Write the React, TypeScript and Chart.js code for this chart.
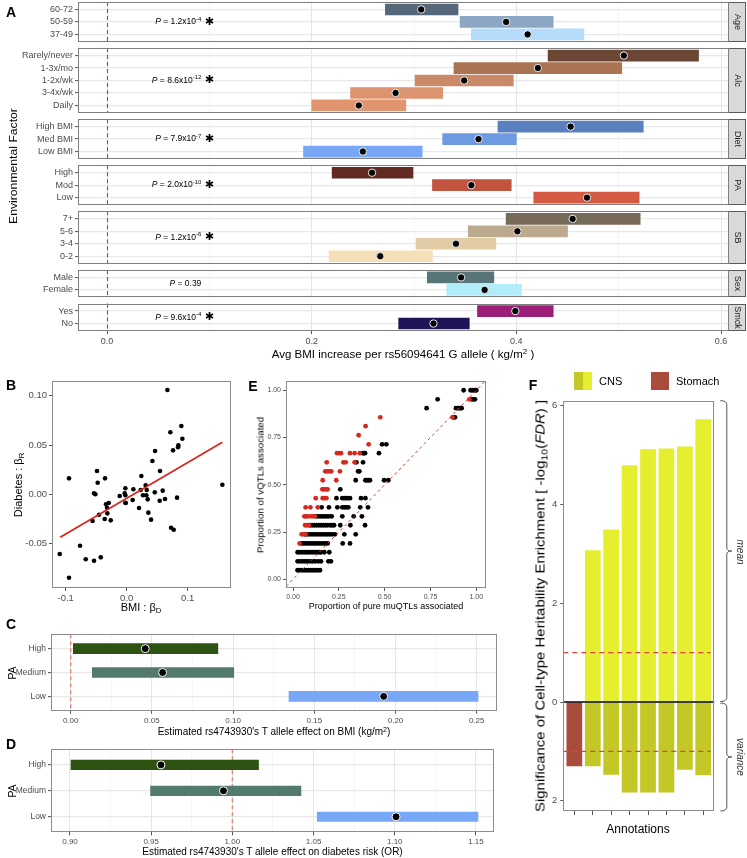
import React, { useEffect, useRef } from "react";
import { Chart, registerables } from "chart.js";
Chart.register(...registerables);

const FONT = "'Liberation Sans', Arial, Helvetica, sans-serif";
const TICK_COLOR = "#4d4d4d";

// ---------------- Panel A data ----------------
const facetNames = ["Age", "Alc", "Diet", "PA", "SB", "Sex", "Smck"];

const ageLevels = ["60-72", "50-59", "37-49"];
const ageEst = [0.307, 0.39, 0.411];
const ageLow = [0.272, 0.345, 0.356];
const ageHigh = [0.343, 0.436, 0.466];
const ageColors = ["#566779", "#8ba7c4", "#b6dcfb"];

const alcLevels = ["Rarely/never", "1-3x/mo", "1-2x/wk", "3-4x/wk", "Daily"];
const alcEst = [0.505, 0.421, 0.349, 0.282, 0.246];
const alcLow = [0.431, 0.339, 0.301, 0.238, 0.2];
const alcHigh = [0.578, 0.503, 0.397, 0.328, 0.292];
const alcColors = ["#6b4634", "#a97453", "#cb8a67", "#dc936f", "#e0956f"];

const dietLevels = ["High BMI", "Med BMI", "Low BMI"];
const dietEst = [0.453, 0.363, 0.25];
const dietLow = [0.382, 0.328, 0.192];
const dietHigh = [0.524, 0.4, 0.308];
const dietColors = ["#5b80c0", "#6e9ae0", "#78a8f5"];

const paLevels = ["High", "Mod", "Low"];
const paEst = [0.259, 0.356, 0.469];
const paLow = [0.22, 0.318, 0.417];
const paHigh = [0.299, 0.395, 0.52];
const paColors = ["#622a22", "#c2533f", "#d45a44"];

const sbLevels = ["7+", "5-6", "3-4", "0-2"];
const sbEst = [0.455, 0.401, 0.341, 0.267];
const sbLow = [0.39, 0.353, 0.302, 0.217];
const sbHigh = [0.521, 0.45, 0.38, 0.318];
const sbColors = ["#766a58", "#bcaa8e", "#e2cca6", "#f5dfb8"];

const sexLevels = ["Male", "Female"];
const sexEst = [0.346, 0.369];
const sexLow = [0.313, 0.332];
const sexHigh = [0.378, 0.405];
const sexColors = ["#577479", "#b2ecfb"];

const smckLevels = ["Yes", "No"];
const smckEst = [0.399, 0.319];
const smckLow = [0.362, 0.285];
const smckHigh = [0.436, 0.354];
const smckColors = ["#9b1f78", "#1f1456"];

const pMantissa = ["1.2", "8.6", "7.9", "2.0", "1.2", "0.39", "9.6"];
const pExponent = ["-4", "-12", "-7", "-10", "-6", "", "-4"];
const pSignificant = [true, true, true, true, true, false, true];
const aTicks = [0, 0.2, 0.4, 0.6];

// ---------------- Panel B data ----------------
const bX = [-0.0946, -0.0487, -0.0476, -0.0536, -0.0514, -0.0355, -0.0454, -0.056, -0.0361, -0.0339, -0.0295, -0.0323, -0.0317, -0.0262, -0.0115, -0.0022, -0.0033, -0.0022, -0.0022, -0.0016, 0.0109, 0.0098, 0.0202, 0.024, 0.0229, 0.0267, 0.0311, 0.0328, 0.0322, 0.0344, 0.0355, 0.0399, 0.0421, 0.046, 0.0465, 0.0541, 0.0546, 0.059, 0.0628, 0.0667, 0.0716, 0.076, 0.0727, 0.0771, 0.0825, 0.0842, 0.0847, 0.0896, 0.0913, 0.1568, -0.0765, -0.1098, -0.0672, -0.0536, -0.0426, -0.0946];
const bY = [0.0162, 0.0236, 0.0118, 0.001, 0.0, 0.0162, -0.0207, -0.0271, -0.025, -0.0101, -0.0088, -0.0136, -0.0193, -0.0264, -0.0017, 0.0061, 0.001, -0.001, -0.0085, -0.0088, 0.0051, -0.0058, -0.0139, 0.0186, 0.0044, -0.001, 0.0091, 0.0044, -0.001, -0.0051, -0.0186, -0.0257, 0.0338, 0.002, 0.0439, -0.0065, 0.0236, 0.0037, -0.0048, 0.1058, 0.0629, 0.0446, -0.0339, -0.0359, -0.0034, 0.0477, 0.0497, 0.0693, 0.0564, 0.0097, -0.0522, -0.0605, -0.0659, -0.0673, -0.0639, -0.0846];
const bFitX = [-0.109, 0.1568];
const bFitY = [-0.0436, 0.0527];
const bXTicks = [-0.1, 0, 0.1];
const bYTicks = [-0.05, 0, 0.05, 0.1];

// ---------------- Panel E data ----------------
const eBlackY = [1.0, 0.952, 0.905, 0.857, 0.714, 0.667, 0.619, 0.571, 0.524, 0.476, 0.429, 0.381, 0.333, 0.286, 0.238, 0.19, 0.143, 0.095, 0.048];
const eBlackX = [
  [0.931, 0.969, 0.978, 0.987, 0.995, 1.0],
  [0.789, 0.975, 0.985, 0.993],
  [0.729, 0.889, 0.898, 0.906, 0.913, 0.92],
  [0.875, 0.884],
  [0.486, 0.509],
  [0.38, 0.387, 0.393, 0.469],
  [0.346, 0.382],
  [0.355, 0.362],
  [0.342, 0.395, 0.403, 0.411, 0.42, 0.497, 0.52],
  [0.258],
  [0.237, 0.269, 0.28, 0.29, 0.3, 0.311, 0.371, 0.395],
  [0.156, 0.196, 0.242, 0.269, 0.28, 0.291, 0.302, 0.367, 0.409],
  [0.129, 0.14, 0.152, 0.163, 0.174, 0.185, 0.196, 0.211, 0.269, 0.331, 0.376],
  [0.093, 0.105, 0.117, 0.129, 0.141, 0.153, 0.165, 0.177, 0.189, 0.204, 0.214, 0.224, 0.258, 0.313, 0.393],
  [0.069, 0.081, 0.093, 0.105, 0.117, 0.129, 0.141, 0.153, 0.165, 0.177, 0.189, 0.201, 0.213, 0.229, 0.28, 0.342],
  [0.044, 0.056, 0.068, 0.08, 0.092, 0.104, 0.116, 0.128, 0.14, 0.152, 0.164, 0.176, 0.189, 0.271, 0.311],
  [0.025, 0.037, 0.049, 0.061, 0.073, 0.085, 0.097, 0.109, 0.121, 0.133, 0.145, 0.153, 0.171, 0.198],
  [0.025, 0.037, 0.049, 0.061, 0.073, 0.085, 0.097, 0.109, 0.121, 0.138, 0.153, 0.193, 0.207],
  [0.025, 0.037, 0.049, 0.061, 0.073, 0.085, 0.097, 0.109, 0.121, 0.133, 0.147],
];
const eRedY = [0.952, 0.857, 0.81, 0.762, 0.714, 0.667, 0.619, 0.571, 0.524, 0.476, 0.429, 0.381, 0.333, 0.286, 0.238, 0.19];
const eRedX = [
  [0.962],
  [0.476, 0.87],
  [0.396],
  [0.358],
  [0.413],
  [0.24, 0.251, 0.262, 0.311, 0.336, 0.364],
  [0.184, 0.275, 0.287, 0.336],
  [0.176, 0.187, 0.198, 0.209, 0.256],
  [0.162, 0.236],
  [0.16, 0.17, 0.18, 0.189],
  [0.124, 0.162, 0.172, 0.182],
  [0.069, 0.095, 0.135],
  [0.062, 0.071, 0.08, 0.096, 0.108, 0.12],
  [0.066, 0.076, 0.087],
  [0.047, 0.058, 0.069],
  [0.036],
];
const eTicks = [0, 0.25, 0.5, 0.75, 1.0];

// ---------------- Panels C / D data ----------------
const paGroups = ["High", "Medium", "Low"];
const paGroupColors = ["#2d5212", "#527b6c", "#79a7f8"];
const cEst = [0.0459, 0.0566, 0.1927];
const cLow = [0.0016, 0.0133, 0.1344];
const cHigh = [0.0906, 0.1004, 0.2508];
const cTicks = [0.0, 0.05, 0.1, 0.15, 0.2, 0.25];
const dEst = [0.956, 0.9945, 1.1008];
const dLow = [0.9006, 0.9496, 1.0522];
const dHigh = [1.0161, 1.0422, 1.1512];
const dTicks = [0.9, 0.95, 1.0, 1.05, 1.1, 1.15];

// ---------------- Panel F data ----------------
const fTissue = ["Stomach", "CNS", "CNS", "CNS", "CNS", "CNS", "CNS", "CNS"];
const fMean = [null, 3.08, 3.5, 4.8, 5.13, 5.14, 5.18, 5.73];
const fVariance = [1.31, 1.31, 1.48, 1.84, 1.84, 1.84, 1.38, 1.49];
const fYTicks = [-2, 0, 2, 4, 6];
const fThreshold = 1;

// ---------------- helpers ----------------
type Area = { l: number; t: number; r: number; b: number };
const fitX = (h: number, a: Area) => (s: any) => {
  s.height = h - a.b;
  s.paddingLeft = 0;
  s.paddingRight = 0;
};
const fitY = (a: Area) => (s: any) => {
  s.width = a.l;
  s.paddingTop = 0;
  s.paddingBottom = 0;
};
const near = (list: number[], v: number) => list.some((t) => Math.abs(t - v) < 1e-9);
const withMinor = (ticks: number[]) => {
  const out: number[] = [];
  ticks.forEach((t, i) => {
    out.push(t);
    if (i < ticks.length - 1) out.push((t + ticks[i + 1]) / 2);
  });
  return out;
};

function axis(o: any) {
  return {
    type: "linear",
    min: o.min,
    max: o.max,
    reverse: !!o.reverse,
    offset: false,
    afterBuildTicks: (s: any) => {
      s.ticks = o.ticks.map((value: number) => ({ value }));
    },
    afterFit: o.fit,
    border: { display: false },
    grid: {
      offset: false,
      display: true,
      drawOnChartArea: !!o.grid,
      color: (c: any) => (o.gridColor ? o.gridColor(c.tick ? c.tick.value : 0) : "#ebebeb"),
      lineWidth: (c: any) => (o.gridWidth ? o.gridWidth(c.tick ? c.tick.value : 0) : 1),
      drawTicks: true,
      tickLength: o.tickLen ?? 3,
      tickWidth: 1,
      tickColor: (c: any) =>
        !o.tickMark || o.tickMark(c.tick ? c.tick.value : 0) ? "#555" : "rgba(0,0,0,0)",
    },
    ticks: {
      autoSkip: false,
      maxRotation: 0,
      minRotation: 0,
      padding: o.pad ?? 2,
      color: TICK_COLOR,
      font: { family: FONT, size: o.size ?? 9 },
      callback: (v: number, i: number) => o.label(v, i),
    },
  };
}

function baseOptions(w: number, a: Area, scales: any, indexAxis = "x") {
  return {
    indexAxis,
    animation: false,
    responsive: false,
    events: [],
    layout: { padding: { left: 0, top: a.t, right: w - a.r, bottom: 0 }, autoPadding: false },
    plugins: { legend: { display: false }, tooltip: { enabled: false } },
    scales,
  };
}

const framePlugin = (color: string) => ({
  id: "frame",
  afterDatasetsDraw(chart: any) {
    const { ctx, chartArea: a } = chart;
    ctx.save();
    ctx.strokeStyle = color;
    ctx.lineWidth = 1;
    const l = Math.round(a.left) + 0.5;
    const t = Math.round(a.top) + 0.5;
    ctx.strokeRect(l, t, Math.round(a.right) - 0.5 - l, Math.round(a.bottom) - 0.5 - t);
    ctx.restore();
  },
});

// ---------------- Panel A ----------------
const facetLevels = [ageLevels, alcLevels, dietLevels, paLevels, sbLevels, sexLevels, smckLevels];
const facetEst = [ageEst, alcEst, dietEst, paEst, sbEst, sexEst, smckEst];
const facetLow = [ageLow, alcLow, dietLow, paLow, sbLow, sexLow, smckLow];
const facetHigh = [ageHigh, alcHigh, dietHigh, paHigh, sbHigh, sexHigh, smckHigh];
const facetColors = [ageColors, alcColors, dietColors, paColors, sbColors, sexColors, smckColors];

const ROW_EXPAND = 0.6;
const FACET_GAP = 0.5;
const facets: any[] = [];
let cursor = 0;
facetNames.forEach((name, i) => {
  const n = facetLevels[i].length;
  const top = cursor;
  const rows = facetLevels[i].map((_, j) => top + ROW_EXPAND + j);
  const bottom = top + 2 * ROW_EXPAND + n - 1;
  facets.push({ name, top, bottom, rows, i });
  cursor = bottom + FACET_GAP;
});
const aTotal = cursor - FACET_GAP;

function drawP(ctx: any, xr: number, y: number, mant: string, exp: string) {
  const parts: any[] = [
    { t: "P", f: `italic 8.5px ${FONT}`, dy: 0 },
    { t: ` = ${mant}${exp ? "x10" : ""}`, f: `8.5px ${FONT}`, dy: 0 },
  ];
  if (exp) parts.push({ t: exp, f: `6px ${FONT}`, dy: -3 });
  let total = 0;
  parts.forEach((p) => {
    ctx.font = p.f;
    p.w = ctx.measureText(p.t).width;
    total += p.w;
  });
  let x = xr - total;
  ctx.textAlign = "left";
  ctx.textBaseline = "middle";
  ctx.fillStyle = "#000";
  parts.forEach((p) => {
    ctx.font = p.f;
    ctx.fillText(p.t, x, y + p.dy);
    x += p.w;
  });
}

const aPlugin = {
  id: "aFacets",
  beforeDatasetsDraw(chart: any) {
    const { ctx, chartArea: ca, scales } = chart;
    const x = scales.x;
    const y = scales.y;
    ctx.save();
    ctx.fillStyle = "#ffffff";
    for (let i = 0; i < facets.length - 1; i++) {
      const y1 = y.getPixelForValue(facets[i].bottom);
      const y2 = y.getPixelForValue(facets[i + 1].top);
      ctx.fillRect(ca.left - 1, y1, ca.right - ca.left + 2, y2 - y1);
    }
    const x0 = Math.round(x.getPixelForValue(0)) + 0.5;
    ctx.strokeStyle = "#e3262b";
    ctx.lineWidth = 1.1;
    ctx.setLineDash([4, 3]);
    facets.forEach((f) => {
      ctx.beginPath();
      ctx.moveTo(x0, y.getPixelForValue(f.top));
      ctx.lineTo(x0, y.getPixelForValue(f.bottom));
      ctx.stroke();
    });
    ctx.restore();
  },
  afterDatasetsDraw(chart: any) {
    const { ctx, chartArea: ca, scales } = chart;
    const x = scales.x;
    const y = scales.y;
    ctx.save();
    facets.forEach((f, i) => {
      const t = Math.round(y.getPixelForValue(f.top)) + 0.5;
      const b = Math.round(y.getPixelForValue(f.bottom)) - 0.5;
      const l = Math.round(ca.left) + 0.5;
      const r = Math.round(ca.right) + 0.5;
      ctx.fillStyle = "#d9d9d9";
      ctx.fillRect(r, t, 17, b - t);
      ctx.strokeStyle = "#5a5a5a";
      ctx.lineWidth = 1;
      ctx.strokeRect(r, t, 17, b - t);
      ctx.strokeStyle = "#7f7f7f";
      ctx.strokeRect(l, t, r - l, b - t);
      ctx.save();
      ctx.translate(r + 8.5, (t + b) / 2);
      ctx.rotate(Math.PI / 2);
      ctx.fillStyle = "#1a1a1a";
      ctx.font = `9px ${FONT}`;
      ctx.textAlign = "center";
      ctx.textBaseline = "middle";
      ctx.fillText(f.name, 0, 0);
      ctx.restore();
      const xs = x.getPixelForValue(0.1);
      drawP(ctx, xs - 8, (t + b) / 2, pMantissa[i], pExponent[i]);
      if (pSignificant[i]) {
        ctx.font = `bold 11px 'DejaVu Sans', sans-serif`;
        ctx.textAlign = "center";
        ctx.textBaseline = "middle";
        ctx.fillStyle = "#000";
        ctx.fillText("\u2731", xs, (t + b) / 2);
      }
    });
    ctx.restore();
  },
};

function makeA(w: number, h: number) {
  const a = { l: 78, t: 2, r: 728, b: 331 };
  const rows = facets.flatMap((f) => f.rows);
  const labels = facets.flatMap((f) => facetLevels[f.i]);
  const bars = facets.flatMap((f) =>
    f.rows.map((yv: number, j: number) => ({ x: [facetLow[f.i][j], facetHigh[f.i][j]], y: yv }))
  );
  const colors = facets.flatMap((f) => facetColors[f.i]);
  const pts = facets.flatMap((f) => f.rows.map((yv: number, j: number) => ({ x: facetEst[f.i][j], y: yv })));
  const xGrid = withMinor(aTicks);
  return {
    type: "bar",
    data: {
      datasets: [
        {
          type: "scatter",
          order: 0,
          data: pts,
          pointRadius: 3.7,
          pointBackgroundColor: "#000",
          pointBorderColor: "#fff",
          pointBorderWidth: 0.9,
        },
        {
          type: "bar",
          order: 1,
          indexAxis: "y",
          data: bars,
          backgroundColor: colors,
          barThickness: 11,
          borderWidth: 0,
        },
      ],
    },
    options: baseOptions(
      w,
      a,
      {
        x: axis({
          min: -0.02834,
          max: 0.6068,
          ticks: xGrid,
          fit: fitX(h, a),
          grid: true,
          gridColor: (v: number) => (near(aTicks, v) ? "#e6e6e6" : "#f0f0f0"),
          gridWidth: (v: number) => (near(aTicks, v) ? 1 : 0.6),
          tickMark: (v: number) => near(aTicks, v),
          label: (v: number) => (near(aTicks, v) ? v.toFixed(1) : ""),
          size: 9,
        }),
        y: axis({
          min: 0,
          max: aTotal,
          reverse: true,
          ticks: rows,
          fit: fitY(a),
          grid: true,
          gridColor: () => "#e8e8e8",
          gridWidth: () => 1.2,
          label: (_v: number, i: number) => labels[i],
          size: 9,
        }),
      },
      "y"
    ),
    plugins: [aPlugin],
  };
}

// ---------------- Panel B ----------------
function makeB(w: number, h: number) {
  const a = { l: 52, t: 3, r: 231, b: 210 };
  return {
    type: "scatter",
    data: {
      datasets: [
        {
          type: "line",
          order: 0,
          data: bFitX.map((x, i) => ({ x, y: bFitY[i] })),
          borderColor: "#d7281f",
          borderWidth: 1.8,
          pointRadius: 0,
          showLine: true,
        },
        {
          type: "scatter",
          order: 1,
          data: bX.map((x, i) => ({ x, y: bY[i] })),
          pointRadius: 2.3,
          pointBackgroundColor: "#000",
          pointBorderWidth: 0,
        },
      ],
    },
    options: baseOptions(w, a, {
      x: axis({ min: -0.1225, max: 0.171, ticks: bXTicks, fit: fitX(h, a), label: (v: number) => v.toFixed(1), size: 9.5 }),
      y: axis({ min: -0.095, max: 0.1149, ticks: bYTicks, fit: fitY(a), label: (v: number) => v.toFixed(2), size: 9.5 }),
    }),
    plugins: [framePlugin("#8c8c8c")],
  };
}

// ---------------- Panel E ----------------
const eDiagPlugin = {
  id: "eDiag",
  afterDatasetsDraw(chart: any) {
    const { ctx, scales } = chart;
    const x = scales.x;
    const y = scales.y;
    const lo = Math.max(x.min, y.min);
    const hi = Math.min(x.max, y.max);
    ctx.save();
    ctx.strokeStyle = "#dd3b2f";
    ctx.lineWidth = 1;
    ctx.setLineDash([3, 3]);
    ctx.beginPath();
    ctx.moveTo(x.getPixelForValue(lo), y.getPixelForValue(lo));
    ctx.lineTo(x.getPixelForValue(hi), y.getPixelForValue(hi));
    ctx.stroke();
    ctx.restore();
  },
};

function makeE(w: number, h: number) {
  const a = { l: 41, t: 3, r: 241, b: 210 };
  const black = eBlackY.flatMap((yv, i) => eBlackX[i].map((x) => ({ x, y: yv })));
  const red = eRedY.flatMap((yv, i) => eRedX[i].map((x) => ({ x, y: yv })));
  return {
    type: "scatter",
    data: {
      datasets: [
        { order: 0, data: red, pointRadius: 2.4, pointBackgroundColor: "#d42a1f", pointBorderWidth: 0 },
        { order: 1, data: black, pointRadius: 2.4, pointBackgroundColor: "#000", pointBorderWidth: 0 },
      ],
    },
    options: baseOptions(w, a, {
      x: axis({ min: -0.0382, max: 1.053, ticks: eTicks, fit: fitX(h, a), label: (v: number) => v.toFixed(2), size: 7 }),
      y: axis({ min: -0.046, max: 1.049, ticks: eTicks, fit: fitY(a), label: (v: number) => v.toFixed(2), size: 7 }),
    }),
    plugins: [eDiagPlugin, framePlugin("#8c8c8c")],
  };
}

// ---------------- Panels C / D ----------------
const refLinePlugin = (ref: number) => ({
  id: "refLine",
  beforeDatasetsDraw(chart: any) {
    const { ctx, chartArea: ca, scales } = chart;
    const x0 = scales.x.getPixelForValue(ref);
    ctx.save();
    ctx.strokeStyle = "#e8847c";
    ctx.lineWidth = 1.4;
    ctx.setLineDash([4, 3]);
    ctx.beginPath();
    ctx.moveTo(x0, ca.top);
    ctx.lineTo(x0, ca.bottom);
    ctx.stroke();
    ctx.restore();
  },
});

function makeForest(
  w: number,
  h: number,
  a: Area,
  est: number[],
  low: number[],
  high: number[],
  ticks: number[],
  xmin: number,
  xmax: number,
  ref: number,
  thick: number
) {
  const grid = withMinor(ticks);
  return {
    type: "bar",
    data: {
      datasets: [
        {
          type: "scatter",
          order: 0,
          data: est.map((x, i) => ({ x, y: i })),
          pointRadius: 4,
          pointBackgroundColor: "#000",
          pointBorderColor: "#fff",
          pointBorderWidth: 1,
        },
        {
          type: "bar",
          order: 1,
          indexAxis: "y",
          data: low.map((l, i) => ({ x: [l, high[i]], y: i })),
          backgroundColor: paGroupColors,
          barThickness: thick,
          borderWidth: 0,
        },
      ],
    },
    options: baseOptions(
      w,
      a,
      {
        x: axis({
          min: xmin,
          max: xmax,
          ticks: grid,
          fit: fitX(h, a),
          grid: true,
          gridColor: (v: number) => (near(ticks, v) ? "#e6e6e6" : "#f0f0f0"),
          gridWidth: (v: number) => (near(ticks, v) ? 1 : 0.6),
          tickMark: (v: number) => near(ticks, v),
          label: (v: number) => (near(ticks, v) ? v.toFixed(2) : ""),
          size: 8,
        }),
        y: axis({
          min: -0.6,
          max: paGroups.length - 1 + 0.6,
          reverse: true,
          ticks: paGroups.map((_, i) => i),
          fit: fitY(a),
          grid: true,
          gridColor: () => "#e8e8e8",
          gridWidth: () => 1.2,
          label: (_v: number, i: number) => paGroups[i],
          size: 8.5,
        }),
      },
      "y"
    ),
    plugins: [refLinePlugin(ref), framePlugin("#8c8c8c")],
  };
}

const makeC = (w: number, h: number) =>
  makeForest(w, h, { l: 51, t: 16.3, r: 496.7, b: 92.7 }, cEst, cLow, cHigh, cTicks, -0.01213, 0.2623, 0, 10);
const makeD = (w: number, h: number) =>
  makeForest(w, h, { l: 51, t: 9.3, r: 494, b: 92.3 }, dEst, dLow, dHigh, dTicks, 0.8883, 1.1611, 1, 9.5);

// ---------------- Panel F ----------------
const fPlugin = {
  id: "fLines",
  afterDatasetsDraw(chart: any) {
    const { ctx, chartArea: ca, scales } = chart;
    const x = scales.x;
    const y = scales.y;
    ctx.save();
    ctx.strokeStyle = "#e0413a";
    ctx.lineWidth = 1.3;
    ctx.setLineDash([5, 4]);
    [fThreshold, -fThreshold].forEach((v) => {
      const yy = y.getPixelForValue(v);
      ctx.beginPath();
      ctx.moveTo(ca.left, yy);
      ctx.lineTo(x.getPixelForValue(fTissue.length - 1 + 0.4), yy);
      ctx.stroke();
    });
    ctx.setLineDash([]);
    ctx.strokeStyle = "#000";
    ctx.lineWidth = 1.6;
    const y0 = y.getPixelForValue(0);
    ctx.beginPath();
    ctx.moveTo(ca.left, y0);
    ctx.lineTo(ca.right, y0);
    ctx.stroke();
    // braces
    const xv = ca.right + 12.5;
    const xh = ca.right + 6;
    const brace = (yt: number, yb: number) => {
      const ym = (yt + yb) / 2;
      ctx.beginPath();
      ctx.moveTo(xh, yt);
      ctx.quadraticCurveTo(xv, yt, xv, yt + 4);
      ctx.lineTo(xv, ym - 3);
      ctx.quadraticCurveTo(xv, ym, xv + 5, ym);
      ctx.quadraticCurveTo(xv, ym, xv, ym + 3);
      ctx.lineTo(xv, yb - 4);
      ctx.quadraticCurveTo(xv, yb, xh, yb);
      ctx.stroke();
    };
    ctx.strokeStyle = "#555";
    ctx.lineWidth = 1;
    brace(ca.top, y0 - 0.5);
    brace(y0 + 1, ca.bottom);
    ctx.restore();
  },
};

function makeF(w: number, h: number) {
  const a = { l: 28.3, t: 8.7, r: 179.3, b: 419 };
  const meanData: any[] = [];
  fMean.forEach((v, i) => {
    if (v !== null) meanData.push({ x: i, y: v });
  });
  return {
    type: "bar",
    data: {
      datasets: [
        {
          data: meanData,
          backgroundColor: "#e5ee2f",
          borderColor: "#ffffff",
          borderWidth: 0.7,
          barThickness: 16.5,
          grouped: false,
        },
        {
          data: fVariance.map((v, i) => ({ x: i, y: -v })),
          backgroundColor: fTissue.map((t) => (t === "Stomach" ? "#a94c3c" : "#c4c826")),
          borderColor: "#ffffff",
          borderWidth: 0.7,
          barThickness: 16.5,
          grouped: false,
        },
      ],
    },
    options: baseOptions(w, a, {
      x: axis({
        min: -0.6,
        max: fTissue.length - 1 + 0.6,
        ticks: fTissue.map((_, i) => i),
        fit: fitX(h, a),
        label: () => "",
        tickLen: 4,
      }),
      y: axis({
        min: -2.206,
        max: 6.099,
        ticks: fYTicks,
        fit: fitY(a),
        label: (v: number) => String(Math.abs(v)),
        size: 9.5,
        pad: 3,
      }),
    }),
    plugins: [fPlugin, framePlugin("#8c8c8c")],
  };
}

// ---------------- components ----------------
function ChartBox({ x, y, w, h, make }: any) {
  const ref = useRef<HTMLCanvasElement>(null);
  useEffect(() => {
    const chart = new Chart(ref.current as any, make(w, h) as any);
    return () => chart.destroy();
  }, []);
  return (
    <canvas
      ref={ref}
      width={w}
      height={h}
      style={{ position: "absolute", left: x, top: y, width: w, height: h }}
    />
  );
}

function Txt({ x, y, size = 11, rot = 0, stretch = 1, bold = false, italic = false, color = "#000", children }: any) {
  return (
    <div
      style={{
        position: "absolute",
        left: x,
        top: y,
        transform: `translate(-50%, -50%) rotate(${rot}deg) scaleX(${stretch})`,
        fontFamily: FONT,
        fontSize: size,
        fontWeight: bold ? 700 : 400,
        fontStyle: italic ? "italic" : "normal",
        color,
        whiteSpace: "nowrap",
        lineHeight: 1,
      }}
    >
      {children}
    </div>
  );
}

const Sup = ({ children }: any) => (
  <span style={{ fontSize: "70%", verticalAlign: "0.5em", lineHeight: 0 }}>{children}</span>
);
const Sub = ({ children }: any) => (
  <span style={{ fontSize: "70%", verticalAlign: "-0.3em", lineHeight: 0 }}>{children}</span>
);

export default function App() {
  return (
    <div style={{ position: "absolute", left: 0, top: 0, width: 747, height: 858, background: "#fff" }}>
      <ChartBox x={0} y={0} w={747} h={366} make={makeA} />
      <ChartBox x={0} y={378} w={240} h={240} make={makeB} />
      <ChartBox x={245} y={378} w={250} h={240} make={makeE} />
      <ChartBox x={0} y={618} w={505} h={122} make={makeC} />
      <ChartBox x={0} y={740} w={505} h={118} make={makeD} />
      <ChartBox x={535} y={392} w={212} h={466} make={makeF} />

      <Txt x={11} y={12} size={14} bold>A</Txt>
      <Txt x={11} y={385} size={14} bold>B</Txt>
      <Txt x={253} y={386} size={14} bold>E</Txt>
      <Txt x={533} y={385} size={14} bold>F</Txt>
      <Txt x={11} y={624} size={14} bold>C</Txt>
      <Txt x={11} y={744} size={14} bold>D</Txt>

      <Txt x={14} y={166} size={11.5} rot={-90} stretch={1.06}>Environmental Factor</Txt>
      <Txt x={403} y={355} size={11.5}>
        Avg BMI increase per rs56094641 G allele ( kg/m<Sup>2</Sup> )
      </Txt>

      <Txt x={18} y={485} size={11} rot={-90}>
        Diabetes : β<Sub>R</Sub>
      </Txt>
      <Txt x={141} y={607} size={11}>
        BMI : β<Sub>D</Sub>
      </Txt>

      <Txt x={261} y={485} size={9} rot={-90} stretch={1.08}>Proportion of vQTLs associated</Txt>
      <Txt x={386} y={606} size={9}>Proportion of pure muQTLs associated</Txt>

      <Txt x={274} y={731.5} size={10}>
        Estimated rs4743930's T allele effect on BMI (kg/m<Sup>2</Sup>)
      </Txt>
      <Txt x={12} y={672.5} size={10.5} rot={-90}>PA</Txt>
      <Txt x={272.5} y={851.5} size={10}>
        Estimated rs4743930's T allele effect on diabetes risk (OR)
      </Txt>
      <Txt x={12} y={791} size={10.5} rot={-90}>PA</Txt>

      <Txt x={540} y={606} size={13} rot={-90} stretch={1.15}>
        Significance of Cell-type Heritability Enrichment [ -log<Sub>10</Sub>(<i>FDR</i>) ]
      </Txt>
      <Txt x={638} y={829} size={12}>Annotations</Txt>
      <Txt x={740} y={552} size={10} rot={90} italic color="#333">mean</Txt>
      <Txt x={740} y={757} size={10} rot={90} italic color="#333">variance</Txt>

      <div style={{ position: "absolute", left: 574, top: 372, width: 18, height: 18, display: "flex" }}>
        <div style={{ width: 9, height: 18, background: "#c4c826" }} />
        <div style={{ width: 9, height: 18, background: "#e5ee2f" }} />
      </div>
      <div style={{ position: "absolute", left: 599, top: 375, fontFamily: FONT, fontSize: 11, lineHeight: "13px" }}>CNS</div>
      <div style={{ position: "absolute", left: 651, top: 372, width: 18, height: 18, background: "#a94c3c" }} />
      <div style={{ position: "absolute", left: 676, top: 375, fontFamily: FONT, fontSize: 11, lineHeight: "13px" }}>Stomach</div>
    </div>
  );
}
